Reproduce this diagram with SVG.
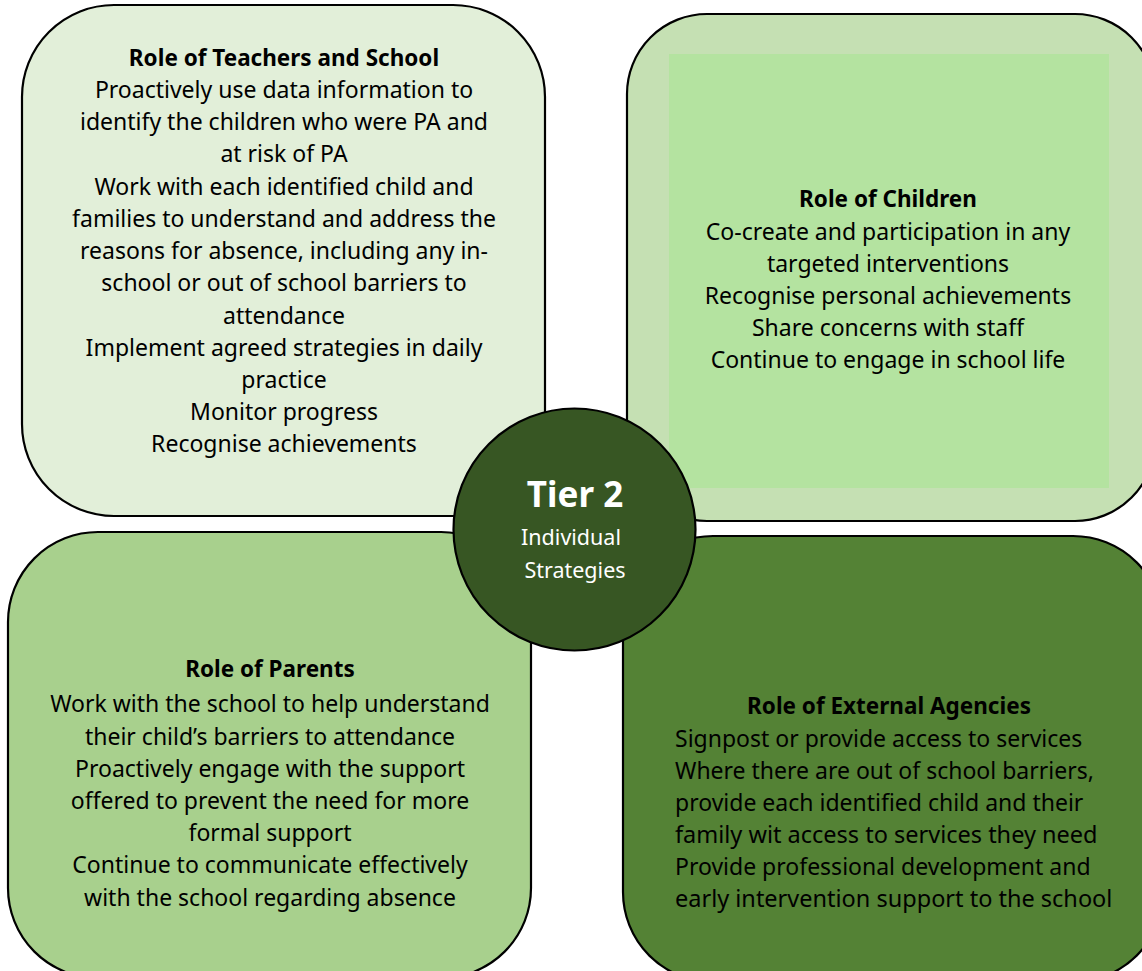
<svg xmlns="http://www.w3.org/2000/svg" width="1142" height="971" viewBox="0 0 1142 971">
<style>
.box{stroke:#000;stroke-width:2.2}
text{font-family:"Noto Sans","DejaVu Sans",sans-serif;font-size:23px;fill:#000}
.c{text-anchor:middle}
.b{font-weight:bold}
.w{fill:#fff}
</style>
<rect width="1142" height="971" fill="#fff"/>
<g id="teachers">
<rect class="box" x="22" y="5" width="523" height="511" rx="92" fill="#e2efd9"/>
<text class="c" x="284" transform="translate(0,2)"><tspan class="b" x="284" y="64" style="font-size:22.5px">Role of Teachers and School</tspan><tspan x="284" y="96">Proactively use data information to</tspan><tspan x="284" y="128">identify the children who were PA and</tspan><tspan x="284" y="160">at risk of PA</tspan><tspan x="284" y="193">Work with each identified child and</tspan><tspan x="284" y="225">families to understand and address the</tspan><tspan x="284" y="257">reasons for absence, including any in-</tspan><tspan x="284" y="289">school or out of school barriers to</tspan><tspan x="284" y="322">attendance</tspan><tspan x="284" y="354">Implement agreed strategies in daily</tspan><tspan x="284" y="386">practice</tspan><tspan x="284" y="418">Monitor progress</tspan><tspan x="284" y="450">Recognise achievements</tspan></text>
</g>
<g id="children">
<rect class="box" x="627" y="14" width="528" height="507" rx="80" fill="#c5e0b3"/>
<rect x="669" y="54" width="440" height="434" fill="#b4e3a0"/>
<text class="c" transform="translate(0,2)"><tspan class="b" x="888" y="205" style="font-size:22.5px">Role of Children</tspan><tspan x="888" y="238">Co-create and participation in any</tspan><tspan x="888" y="270">targeted interventions</tspan><tspan x="888" y="302">Recognise personal achievements</tspan><tspan x="888" y="334">Share concerns with staff</tspan><tspan x="888" y="366">Continue to engage in school life</tspan></text>
</g>
<g id="parents">
<rect class="box" x="8" y="532" width="523" height="446" rx="90" fill="#a8d08d"/>
<text class="c" transform="translate(0,2)"><tspan class="b" x="270" y="675" style="font-size:22.5px">Role of Parents</tspan><tspan x="270" y="710">Work with the school to help understand</tspan><tspan x="270" y="743">their child’s barriers to attendance</tspan><tspan x="270" y="775">Proactively engage with the support</tspan><tspan x="270" y="807">offered to prevent the need for more</tspan><tspan x="270" y="839">formal support</tspan><tspan x="270" y="871">Continue to communicate effectively</tspan><tspan x="270" y="904">with the school regarding absence</tspan></text>
</g>
<g id="agencies">
<rect class="box" x="623" y="536" width="540" height="446" rx="90" fill="#548235"/>
<text transform="translate(0,2)"><tspan class="b c" x="889" y="712" style="font-size:22.5px">Role of External Agencies</tspan><tspan x="675" y="745">Signpost or provide access to services</tspan><tspan x="675" y="777">Where there are out of school barriers,</tspan><tspan x="675" y="809">provide each identified child and their</tspan><tspan x="675" y="841" style="font-size:23.5px">family wit access to services they need</tspan><tspan x="675" y="873">Provide professional development and</tspan><tspan x="675" y="905" style="font-size:23.5px">early intervention support to the school</tspan></text>
</g>
<g id="tier2">
<circle class="box" cx="574.5" cy="529.5" r="121" fill="#375623"/>
<text class="c b w" x="575" y="507" style="font-size:35px">Tier 2</text>
<text class="c w" x="571" y="545" style="font-size:21.5px">Individual</text>
<text class="c w" x="575" y="578" style="font-size:21.5px">Strategies</text>
</g>
<g id="connectors"/>
</svg>
